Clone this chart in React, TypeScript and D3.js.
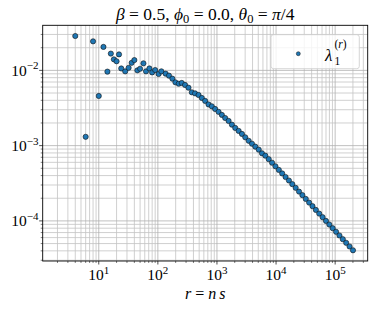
import React from "react";
import * as d3 from "d3";

// r = n s values and λ1^(r) values
const rValues: number[] = [
  4, 6, 8, 10, 12, 14, 16, 18, 20, 22, 24, 28, 32, 36, 40, 45, 50, 57, 63, 72, 80, 90, 103,
  114.6, 135.5, 154.2, 176.2, 198.2, 225.4, 253.5, 288.4, 329.6, 375.0, 426.6, 487.5, 554.6,
  631.0, 719.5, 818.5, 931.1, 1064, 1211, 1377, 1574, 1791, 2037, 2328, 2649, 3013, 3443,
  3917, 4457, 5093, 5781, 6592, 7516, 8570, 9772, 11143, 12706, 14488, 16520, 18836, 21478,
  24491, 27925, 31842, 36308, 41400, 47206, 53827, 61376, 69984, 79799, 90991, 103753,
  118304, 134896, 153815, 175388, 200447,
];
const lambdaValues: number[] = [
  0.0286, 0.00131, 0.0243, 0.00457, 0.0205, 0.00962, 0.0167, 0.014, 0.0132, 0.0163, 0.0106,
  0.0097, 0.0108, 0.0126, 0.0137, 0.01, 0.0105, 0.0124, 0.0097, 0.0106, 0.0094, 0.0101,
  0.00895, 0.00971, 0.00904, 0.00851, 0.00776, 0.00693, 0.00665, 0.00681, 0.0064, 0.00589,
  0.00511, 0.00495, 0.00471, 0.0043, 0.00393, 0.00353, 0.00333, 0.00307, 0.00281, 0.00256,
  0.00233, 0.00213, 0.0019, 0.00172, 0.00157, 0.00143, 0.00129, 0.00116, 0.00106, 0.00097,
  0.000885, 0.000791, 0.000736, 0.000661, 0.000592, 0.000531, 0.000476, 0.000427, 0.000383,
  0.000344, 0.000308, 0.000275, 0.000245, 0.00022, 0.000196, 0.000175, 0.000157, 0.00014,
  0.000125, 0.000112, 0.0001, 0.0000895, 0.00008, 0.0000716, 0.000064, 0.0000571, 0.0000511,
  0.0000457, 0.0000407,
];
const xTickExponents: number[] = [1, 2, 3, 4, 5];
const yTickExponents: number[] = [-4, -3, -2];
const xDomainLog: number[] = [0.051, 5.551];

const W = 374;
const H = 309;
const L = 42.7;
const R = 367.7;
const T = 25.3;
const B = 261;
const FONT = "'Liberation Serif', 'DejaVu Serif', serif";
const BLUE = "#1f77b4";

export default function App() {
  const x = d3.scaleLog().domain([10 ** xDomainLog[0], 10 ** xDomainLog[1]]).range([L, R]);
  const ly = lambdaValues.map((v) => Math.log10(v));
  const yMin = d3.min(ly)!;
  const yMax = d3.max(ly)!;
  const pad = (yMax - yMin) * 0.05;
  const y = d3.scaleLog().domain([10 ** (yMin - pad), 10 ** (yMax + pad)]).range([B, T]);

  const minorTicks = (scale: d3.ScaleLogarithmic<number, number>) => {
    const [a, b] = scale.domain();
    const out: number[] = [];
    for (let e = Math.floor(Math.log10(a)); e <= Math.ceil(Math.log10(b)); e++) {
      for (let k = 2; k <= 9; k++) {
        const v = k * 10 ** e;
        if (v >= a && v <= b) out.push(v);
      }
    }
    return out;
  };
  const xMinor = minorTicks(x);
  const yMinor = minorTicks(y);
  const xMajor = xTickExponents.map((e) => 10 ** e);
  const yMajor = yTickExponents.map((e) => 10 ** e);

  const pts = rValues.map((r, i) => ({ r, v: lambdaValues[i] }));
  const cx = (L + R) / 2;

  return (
    <svg
      width={W}
      height={H}
      style={{ position: "absolute", left: 0, top: 0, background: "#fff" }}
      fontFamily={FONT}
    >
      <rect x={0} y={0} width={W} height={H} fill="#fff" />
      {/* grid */}
      <g stroke="#c4c4c4" strokeWidth={0.8}>
        {xMinor.map((t) => (
          <line key={"xm" + t} x1={x(t)} x2={x(t)} y1={T} y2={B} />
        ))}
        {yMinor.map((t) => (
          <line key={"ym" + t} x1={L} x2={R} y1={y(t)} y2={y(t)} />
        ))}
      </g>
      <g stroke="#b0b0b0" strokeWidth={0.8}>
        {xMajor.map((t) => (
          <line key={"xM" + t} x1={x(t)} x2={x(t)} y1={T} y2={B} />
        ))}
        {yMajor.map((t) => (
          <line key={"yM" + t} x1={L} x2={R} y1={y(t)} y2={y(t)} />
        ))}
      </g>
      {/* points */}
      <g fill={BLUE} stroke="#111" strokeWidth={0.6}>
        {pts.map((p, i) => (
          <circle key={i} cx={x(p.r)} cy={y(p.v)} r={2.6} />
        ))}
      </g>
      {/* spines */}
      <rect x={L} y={T} width={R - L} height={B - T} fill="none" stroke="#000" strokeWidth={0.9} />
      {/* ticks */}
      <g stroke="#000" strokeWidth={0.7}>
        {xMajor.map((t) => (
          <line key={"xt" + t} x1={x(t)} x2={x(t)} y1={B} y2={B + 3.5} />
        ))}
        {xMinor.map((t) => (
          <line key={"xmt" + t} x1={x(t)} x2={x(t)} y1={B} y2={B + 2} strokeWidth={0.5} />
        ))}
        {yMajor.map((t) => (
          <line key={"yt" + t} x1={L - 3.5} x2={L} y1={y(t)} y2={y(t)} />
        ))}
        {yMinor.map((t) => (
          <line key={"ymt" + t} x1={L - 2} x2={L} y1={y(t)} y2={y(t)} strokeWidth={0.5} />
        ))}
      </g>
      {/* tick labels */}
      <g fill="#000">
        {xTickExponents.map((e) => (
          <text key={"xl" + e} x={x(10 ** e)} y={280} textAnchor="middle" fontSize={15.5}>
            <tspan>10</tspan>
            <tspan dy={-6.5} fontSize={11}>{String(e)}</tspan>
          </text>
        ))}
        {yTickExponents.map((e) => (
          <text key={"yl" + e} x={38.5} y={y(10 ** e) + 5.5} textAnchor="end" fontSize={15.5}>
            <tspan>10</tspan>
            <tspan dy={-6.5} fontSize={11}>{"\u2212" + String(-e)}</tspan>
          </text>
        ))}
      </g>
      {/* title */}
      <text x={cx} y={19.5} textAnchor="middle" fontSize={17.5} fill="#000">
        <tspan fontStyle="italic">β</tspan>
        <tspan> = 0.5, </tspan>
        <tspan fontStyle="italic">ϕ</tspan>
        <tspan dy={3} fontSize={12.5}>0</tspan>
        <tspan dy={-3}> = 0.0, </tspan>
        <tspan fontStyle="italic">θ</tspan>
        <tspan dy={3} fontSize={12.5}>0</tspan>
        <tspan dy={-3}> = </tspan>
        <tspan fontStyle="italic">π</tspan>
        <tspan>/4</tspan>
      </text>
      {/* x label */}
      <text x={cx} y={299} textAnchor="middle" fontSize={16} fill="#000">
        <tspan fontStyle="italic">r</tspan>
        <tspan> = </tspan>
        <tspan fontStyle="italic">n</tspan>
        <tspan fontStyle="italic" dx={3}>s</tspan>
      </text>
      {/* legend */}
      <rect
        x={271}
        y={34.7}
        width={88.3}
        height={34}
        rx={2.5}
        fill="#fff"
        fillOpacity={0.8}
        stroke="#cccccc"
        strokeWidth={0.8}
      />
      <circle cx={298.3} cy={53.7} r={2} fill={BLUE} stroke="#111" strokeWidth={0.5} />
      <text x={325} y={60.5} fontSize={17} fontStyle="italic" fill="#000">λ</text>
      <text x={334.5} y={64.5} fontSize={11.5} fill="#000">1</text>
      <text x={334.5} y={47.5} fontSize={11.5} fill="#000">
        <tspan>(</tspan>
        <tspan fontStyle="italic">r</tspan>
        <tspan>)</tspan>
      </text>
    </svg>
  );
}
